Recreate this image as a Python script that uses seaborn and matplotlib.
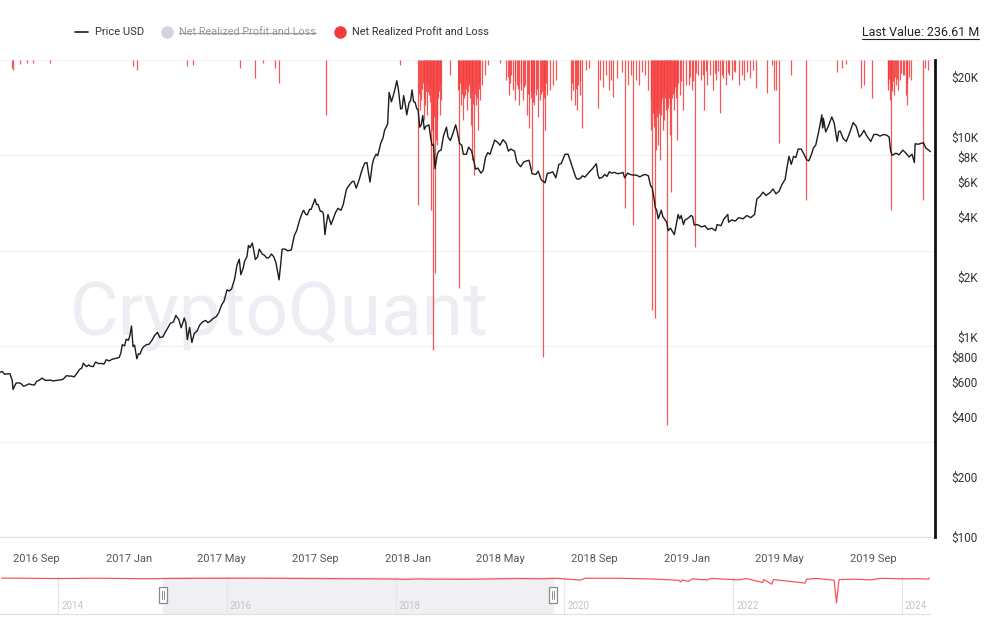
import pandas as pd
import numpy as np
import matplotlib.pyplot as plt
import matplotlib.dates as mdates
from matplotlib.lines import Line2D
from matplotlib.patches import Rectangle
from matplotlib.ticker import NullLocator
import seaborn as sns

sns.set_style('white')
plt.rcParams['font.family'] = ['Roboto', 'DejaVu Sans']

# BTC price (USD)
price_dates = [
    '2016-07-15', '2016-07-19', '2016-07-22', '2016-07-26', '2016-07-29',
    '2016-08-01', '2016-08-02', '2016-08-06', '2016-08-09', '2016-08-12', '2016-08-16', '2016-08-19', '2016-08-23', '2016-08-26', '2016-08-30',
    '2016-09-02', '2016-09-06', '2016-09-09', '2016-09-13', '2016-09-16', '2016-09-20', '2016-09-23', '2016-09-27', '2016-09-30',
    '2016-10-04', '2016-10-07', '2016-10-11', '2016-10-14', '2016-10-18', '2016-10-21', '2016-10-24', '2016-10-28', '2016-10-31',
    '2016-11-02', '2016-11-06', '2016-11-09', '2016-11-11', '2016-11-15', '2016-11-18', '2016-11-22', '2016-11-25', '2016-11-29',
    '2016-12-02', '2016-12-06', '2016-12-09', '2016-12-13', '2016-12-16', '2016-12-19', '2016-12-21', '2016-12-23', '2016-12-26', '2016-12-28', '2016-12-31',
    '2017-01-02', '2017-01-04', '2017-01-06', '2017-01-08', '2017-01-11', '2017-01-13', '2017-01-15', '2017-01-18', '2017-01-20', '2017-01-24', '2017-01-27', '2017-01-31',
    '2017-02-03', '2017-02-07', '2017-02-10', '2017-02-14', '2017-02-17', '2017-02-21', '2017-02-24', '2017-02-28',
    '2017-03-03', '2017-03-07', '2017-03-10', '2017-03-14', '2017-03-16', '2017-03-18', '2017-03-21', '2017-03-24', '2017-03-27', '2017-03-31',
    '2017-04-03', '2017-04-07', '2017-04-11', '2017-04-14', '2017-04-17', '2017-04-21', '2017-04-25', '2017-04-28',
    '2017-05-02', '2017-05-05', '2017-05-09', '2017-05-12', '2017-05-15', '2017-05-19', '2017-05-22', '2017-05-25', '2017-05-27', '2017-05-30',
    '2017-06-01', '2017-06-04', '2017-06-06', '2017-06-08', '2017-06-11', '2017-06-13', '2017-06-15', '2017-06-18', '2017-06-20', '2017-06-24', '2017-06-27', '2017-06-30',
    '2017-07-03', '2017-07-06', '2017-07-09', '2017-07-12', '2017-07-16', '2017-07-18', '2017-07-20', '2017-07-24', '2017-07-27',
    '2017-08-01', '2017-08-05', '2017-08-08', '2017-08-12', '2017-08-15', '2017-08-17', '2017-08-20', '2017-08-22', '2017-08-25', '2017-08-27',
    '2017-09-01', '2017-09-03', '2017-09-05', '2017-09-08', '2017-09-10', '2017-09-12', '2017-09-14', '2017-09-16', '2017-09-18', '2017-09-22', '2017-09-25', '2017-09-28',
    '2017-10-01', '2017-10-05', '2017-10-08', '2017-10-12', '2017-10-15', '2017-10-20', '2017-10-22', '2017-10-25', '2017-10-29',
    '2017-11-01', '2017-11-05', '2017-11-08', '2017-11-10', '2017-11-12', '2017-11-15', '2017-11-17', '2017-11-20', '2017-11-22', '2017-11-26', '2017-11-29',
    '2017-12-01', '2017-12-03', '2017-12-05', '2017-12-07', '2017-12-10', '2017-12-13', '2017-12-15', '2017-12-17', '2017-12-19', '2017-12-22', '2017-12-24', '2017-12-26', '2017-12-28', '2017-12-30',
    '2018-01-02', '2018-01-04', '2018-01-06', '2018-01-08', '2018-01-10', '2018-01-12', '2018-01-14', '2018-01-16', '2018-01-18', '2018-01-20', '2018-01-22', '2018-01-24', '2018-01-28', '2018-01-30',
    '2018-02-01', '2018-02-03', '2018-02-05', '2018-02-08', '2018-02-10', '2018-02-13', '2018-02-16', '2018-02-20', '2018-02-22', '2018-02-25', '2018-02-28',
    '2018-03-04', '2018-03-06', '2018-03-09', '2018-03-12', '2018-03-14', '2018-03-18', '2018-03-21', '2018-03-25', '2018-03-30',
    '2018-04-02', '2018-04-06', '2018-04-09', '2018-04-12', '2018-04-15', '2018-04-18', '2018-04-21', '2018-04-24', '2018-04-28',
    '2018-05-01', '2018-05-05', '2018-05-09', '2018-05-12', '2018-05-15', '2018-05-20', '2018-05-23', '2018-05-28',
    '2018-06-01', '2018-06-05', '2018-06-08', '2018-06-12', '2018-06-17', '2018-06-20', '2018-06-24', '2018-06-29',
    '2018-07-02', '2018-07-05', '2018-07-09', '2018-07-13', '2018-07-17', '2018-07-20', '2018-07-25', '2018-07-29',
    '2018-08-01', '2018-08-04', '2018-08-08', '2018-08-10', '2018-08-14', '2018-08-17', '2018-08-20', '2018-08-23', '2018-08-26', '2018-08-30',
    '2018-09-04', '2018-09-06', '2018-09-08', '2018-09-12', '2018-09-15', '2018-09-18', '2018-09-21', '2018-09-24', '2018-09-28',
    '2018-10-02', '2018-10-06', '2018-10-09', '2018-10-11', '2018-10-15', '2018-10-18', '2018-10-22', '2018-10-26', '2018-10-31',
    '2018-11-04', '2018-11-07', '2018-11-11', '2018-11-14', '2018-11-16', '2018-11-19', '2018-11-20', '2018-11-22', '2018-11-24', '2018-11-25', '2018-11-28', '2018-11-30',
    '2018-12-03', '2018-12-05', '2018-12-07', '2018-12-10', '2018-12-15', '2018-12-17', '2018-12-20', '2018-12-22', '2018-12-24', '2018-12-27', '2018-12-29',
    '2019-01-01', '2019-01-06', '2019-01-08', '2019-01-10', '2019-01-14', '2019-01-20', '2019-01-24', '2019-01-28',
    '2019-02-02', '2019-02-07', '2019-02-09', '2019-02-14', '2019-02-18', '2019-02-23', '2019-02-24', '2019-02-28',
    '2019-03-05', '2019-03-09', '2019-03-15', '2019-03-20', '2019-03-25', '2019-03-30',
    '2019-04-02', '2019-04-06', '2019-04-10', '2019-04-14', '2019-04-20', '2019-04-23', '2019-04-27',
    '2019-05-01', '2019-05-05', '2019-05-09', '2019-05-11', '2019-05-14', '2019-05-17', '2019-05-20', '2019-05-23', '2019-05-26', '2019-05-30',
    '2019-06-03', '2019-06-06', '2019-06-09', '2019-06-12', '2019-06-15', '2019-06-18', '2019-06-22', '2019-06-26', '2019-06-27', '2019-06-28',
    '2019-07-01', '2019-07-04', '2019-07-09', '2019-07-12', '2019-07-16', '2019-07-18', '2019-07-20', '2019-07-24', '2019-07-28',
    '2019-08-01', '2019-08-06', '2019-08-10', '2019-08-14', '2019-08-17', '2019-08-20', '2019-08-24', '2019-08-29',
    '2019-09-02', '2019-09-06', '2019-09-10', '2019-09-15', '2019-09-19', '2019-09-22', '2019-09-24', '2019-09-26',
    '2019-10-01', '2019-10-05', '2019-10-10', '2019-10-14', '2019-10-18', '2019-10-22', '2019-10-25', '2019-10-26', '2019-10-30',
    '2019-11-03', '2019-11-06', '2019-11-09', '2019-11-11', '2019-11-15',
]
price_usd = [
    665, 672, 651, 654, 655,
    606, 547, 588, 590, 587, 567, 574, 583, 578, 575,
    600, 610, 623, 608, 607, 609, 603, 606, 609,
    611, 617, 641, 638, 637, 632, 653, 688, 700,
    740, 711, 725, 715, 711, 750, 736, 738, 732,
    770, 759, 772, 780, 784, 791, 832, 915, 903, 975, 963,
    1021, 1135, 896, 911, 778, 825, 820, 875, 894, 917, 920, 966,
    1015, 1055, 995, 1000, 1053, 1120, 1172, 1190,
    1282, 1220, 1112, 1245, 1180, 970, 1115, 938, 1040, 1075,
    1145, 1190, 1210, 1180, 1200, 1240, 1265, 1320,
    1450, 1510, 1720, 1700, 1740, 1960, 2290, 2450, 2050, 2200,
    2400, 2520, 2870, 2800, 2950, 2700, 2440, 2520, 2750, 2600, 2560, 2480,
    2500, 2600, 2520, 2350, 1930, 2280, 2750, 2750, 2700,
    2720, 3220, 3400, 3850, 4150, 4300, 4100, 4080, 4350, 4350,
    4900, 4600, 4600, 4250, 4250, 4150, 3250, 3700, 4100, 3650, 3920, 4200,
    4400, 4300, 4600, 5450, 5700, 6000, 6000, 5550, 6150,
    6750, 7400, 7450, 6600, 5950, 7300, 7800, 8200, 8050, 9300, 9900,
    10800, 11200, 11600, 16700, 15000, 16400, 17600, 19100, 17400, 13800, 13900, 16100, 14600, 12900,
    14800, 15200, 17200, 15000, 14900, 13900, 13600, 11200, 11500, 12800, 10900, 11300, 11500, 10100,
    9100, 9200, 6950, 8200, 8500, 8600, 10100, 11200, 10000, 9600, 10300,
    11500, 10700, 9300, 9100, 8200, 8200, 8900, 8500, 6900,
    7000, 6600, 6800, 7900, 8350, 8200, 8900, 9650, 9400,
    9100, 9700, 9300, 8500, 8700, 8500, 7500, 7100,
    7500, 7600, 7650, 6550, 6500, 6750, 6100, 5900,
    6600, 6600, 6700, 6250, 7300, 7350, 8200, 8200,
    7600, 7000, 6300, 6150, 6200, 6400, 6300, 6500, 6700, 6950,
    7350, 6500, 6200, 6300, 6500, 6350, 6700, 6600, 6650,
    6550, 6600, 6650, 6250, 6600, 6500, 6450, 6450, 6320,
    6450, 6500, 6400, 5700, 5600, 4800, 4450, 4300, 3900, 4000, 4300, 4000,
    3850, 3750, 3400, 3500, 3250, 3550, 4100, 3900, 4050, 3650, 3850,
    3900, 4050, 4000, 3630, 3650, 3550, 3600, 3450,
    3500, 3400, 3650, 3600, 3900, 4100, 3750, 3850,
    3800, 3950, 3900, 4050, 3950, 4100,
    4900, 5050, 5300, 5100, 5300, 5500, 5200,
    5350, 5800, 6150, 6900, 8000, 7300, 8000, 7900, 8700, 8700,
    8150, 7700, 7600, 8100, 8800, 9100, 10700, 12900, 11100, 12400,
    10600, 11200, 12600, 11800, 9500, 10650, 10700, 9800, 9500,
    10400, 11800, 11300, 10000, 10300, 10800, 10100, 9500,
    10300, 10300, 10100, 10300, 10200, 10000, 8500, 8100,
    8300, 8150, 8600, 8300, 7950, 8200, 7450, 9250, 9200,
    9300, 9350, 8800, 8700, 8450,
]

# Net Realized Profit and Loss, loss days only (million USD)
nrpl_dates = [
    '2016-08-01', '2016-08-02', '2016-08-11', '2016-08-20', '2016-08-28', '2016-09-20', '2017-01-06',
    '2017-01-11', '2017-03-18', '2017-03-25', '2017-05-26', '2017-06-15', '2017-06-25', '2017-07-11',
    '2017-07-16', '2017-09-15', '2017-12-21', '2018-01-14', '2018-01-17', '2018-01-18', '2018-01-21',
    '2018-01-23', '2018-01-26', '2018-01-28', '2018-01-31', '2018-02-01', '2018-02-02', '2018-02-03',
    '2018-02-05', '2018-02-06', '2018-02-07', '2018-02-08', '2018-02-11', '2018-02-13', '2018-02-24',
    '2018-03-07', '2018-03-08', '2018-03-11', '2018-03-13', '2018-03-16', '2018-03-19', '2018-03-21',
    '2018-03-24', '2018-03-26', '2018-03-28', '2018-03-30', '2018-04-02', '2018-04-05', '2018-04-07',
    '2018-04-11', '2018-04-15', '2018-05-01', '2018-05-09', '2018-05-13', '2018-05-16', '2018-05-18',
    '2018-05-21', '2018-05-23', '2018-05-26', '2018-05-28', '2018-05-31', '2018-06-03', '2018-06-05',
    '2018-06-08', '2018-06-12', '2018-06-15', '2018-06-17', '2018-06-20', '2018-06-22', '2018-06-26',
    '2018-06-29', '2018-07-01', '2018-07-05', '2018-07-09', '2018-07-13', '2018-08-02', '2018-08-05',
    '2018-08-07', '2018-08-10', '2018-08-13', '2018-08-16', '2018-08-21', '2018-08-25', '2018-09-06',
    '2018-09-09', '2018-09-13', '2018-09-17', '2018-09-21', '2018-09-23', '2018-09-26', '2018-10-01',
    '2018-10-07', '2018-10-12', '2018-10-16', '2018-10-20', '2018-10-22', '2018-10-26', '2018-10-30',
    '2018-11-03', '2018-11-07', '2018-11-11', '2018-11-14', '2018-11-16', '2018-11-18', '2018-11-20',
    '2018-11-21', '2018-11-24', '2018-11-26', '2018-11-27', '2018-11-30', '2018-12-02', '2018-12-05',
    '2018-12-06', '2018-12-09', '2018-12-11', '2018-12-14', '2018-12-18', '2018-12-22', '2018-12-26',
    '2018-12-30', '2019-01-03', '2019-01-07', '2019-01-11', '2019-01-15', '2019-01-19', '2019-01-23',
    '2019-01-27', '2019-01-31', '2019-02-04', '2019-02-08', '2019-02-13', '2019-02-17', '2019-02-21',
    '2019-02-25', '2019-03-01', '2019-03-05', '2019-03-09', '2019-03-13', '2019-03-16', '2019-03-20',
    '2019-03-24', '2019-03-28', '2019-04-01', '2019-04-15', '2019-04-22', '2019-04-24', '2019-04-27',
    '2019-05-01', '2019-05-17', '2019-06-05', '2019-07-16', '2019-07-23', '2019-07-28', '2019-08-16',
    '2019-08-20', '2019-08-31', '2019-09-20', '2019-09-23', '2019-09-25', '2019-09-28', '2019-10-01',
    '2019-10-03', '2019-10-06', '2019-10-10', '2019-10-14', '2019-10-16', '2019-10-20', '2019-11-05',
    '2019-11-08', '2019-11-12',
    # shallower loss days inside the dense clusters
    '2018-01-15', '2018-01-19', '2018-01-20', '2018-01-22', '2018-01-24', '2018-01-25', '2018-01-27',
    '2018-01-29', '2018-01-30', '2018-02-04', '2018-02-09', '2018-02-10', '2018-02-12',
    '2018-03-09', '2018-03-10', '2018-03-12', '2018-03-14', '2018-03-15', '2018-03-17', '2018-03-18',
    '2018-03-20', '2018-03-22', '2018-03-23', '2018-03-25', '2018-03-27', '2018-03-29', '2018-03-31',
    '2018-04-01', '2018-04-03', '2018-04-04',
    '2018-05-11', '2018-05-14', '2018-05-20', '2018-05-24', '2018-05-29', '2018-06-01', '2018-06-06',
    '2018-06-10', '2018-06-11', '2018-06-13', '2018-06-14', '2018-06-18', '2018-06-24', '2018-06-25',
    '2018-06-27', '2018-06-28', '2018-06-30',
    '2018-08-03', '2018-08-08', '2018-08-11', '2018-08-14',
    '2018-11-15', '2018-11-17', '2018-11-19', '2018-11-22', '2018-11-23', '2018-11-25', '2018-11-28',
    '2018-11-29', '2018-12-01', '2018-12-03', '2018-12-04', '2018-12-07', '2018-12-08', '2018-12-10',
    '2018-12-12', '2018-12-13', '2018-12-15', '2018-12-16', '2018-12-17', '2018-12-19', '2018-12-20',
    '2018-12-24',
    '2019-01-05', '2019-01-09', '2019-01-13', '2019-01-21', '2019-01-25', '2019-02-06', '2019-02-10',
    '2019-02-15', '2019-02-23', '2019-03-03',
    '2019-09-21', '2019-09-22', '2019-09-24', '2019-09-26', '2019-09-27', '2019-09-30', '2019-10-02',
    '2019-10-08', '2019-10-12', '2019-10-15', '2019-10-18',
]
nrpl_musd = [
    -42, -52, -21, -16, -16, -16, -31,
    -52, -31, -26, -42, -94, -16, -42,
    -121, -288, -26, -760, -262, -210, -314,
    -236, -288, -183, -786, -367, -1520, -472,
    -1116, -419, -445, -314, -288, -210, -79,
    -157, -1195, -236, -314, -183, -262, -131,
    -341, -524, -603, -236, -367, -210, -131,
    -79, -26, -16, -105, -183, -79, -157,
    -210, -131, -236, -157, -210, -131, -288,
    -356, -576, -236, -183, -299, -210, -1556,
    -367, -183, -157, -131, -105, -210, -157,
    -236, -262, -183, -356, -52, -42, -252,
    -105, -141, -79, -157, -105, -194, -94,
    -63, -776, -131, -79, -865, -105, -131,
    -63, -79, -157, -367, -1310, -314, -1352,
    -472, -445, -524, -288, -367, -314, -1913,
    -236, -393, -692, -262, -419, -183, -262,
    -131, -131, -157, -980, -79, -105, -262,
    -131, -79, -157, -105, -278, -94, -131,
    -79, -105, -63, -131, -79, -105, -63,
    -94, -52, -147, -173, -26, -157, -157,
    -435, -79, -734, -63, -42, -21, -147,
    -131, -199, -157, -210, -786, -183, -131,
    -157, -105, -79, -183, -236, -105, -734,
    -42, -52,
    -180, -150, -120, -200, -160, -130, -170,
    -140, -220, -300, -200, -160, -120,
    -150, -120, -180, -140, -200, -110, -150,
    -170, -120, -200, -160, -230, -180, -140,
    -200, -150, -120,
    -90, -120, -110, -150, -120, -140, -180,
    -200, -160, -220, -170, -150, -180, -160,
    -200, -150, -120,
    -120, -150, -130, -110,
    -200, -280, -350, -300, -250, -280, -220,
    -200, -180, -200, -260, -250, -200, -230,
    -200, -180, -160, -140, -200, -150, -120,
    -110,
    -90, -110, -70, -80, -60, -70, -60,
    -80, -70, -60,
    -120, -100, -140, -160, -110, -90, -100,
    -70, -80, -120, -90,
]

# navigator (full history, smoothed NRPL, million USD)
nav_dates = [
    '2013-05-01', '2014-01-01', '2014-06-01', '2015-01-15', '2015-08-01', '2016-06-01', '2017-01-10',
    '2017-09-15', '2018-01-20', '2018-02-06', '2018-03-30', '2018-06-25', '2018-11-20', '2018-12-10',
    '2019-06-01', '2019-09-25', '2019-12-01', '2020-03-12', '2020-04-01', '2020-09-01', '2021-01-20',
    '2021-05-12', '2021-05-19', '2021-05-25', '2021-06-22', '2021-07-10', '2021-09-10', '2021-10-01',
    '2022-01-22', '2022-03-01', '2022-05-09', '2022-05-15', '2022-06-13', '2022-06-18', '2022-06-25',
    '2022-11-09', '2022-11-15', '2023-01-01', '2023-03-15', '2023-03-25', '2023-04-05', '2023-06-15',
    '2023-08-18', '2023-10-01', '2024-01-15', '2024-03-20', '2024-04-25', '2024-05-01',
]
nav_musd = [
    0, -60, -20, -80, -30, -20, -60,
    -100, -140, -180, -120, -140, -160, -150,
    -60, -90, -30, -270, -20, -30, -120,
    -300, -550, -250, -450, -100, -250, -40,
    -250, -60, -600, -200, -750, -820, -200,
    -680, -150, -50, -300, -3400, -200, -150,
    -250, -30, -100, -80, -140, 0,
]
nav_years = ['2014', '2016', '2018', '2020', '2022', '2024']
nav_window = ['2015-03-30', '2019-11-13']

tick_dates = ['2016-09-01', '2017-01-01', '2017-05-01', '2017-09-01', '2018-01-01', '2018-05-01',
              '2018-09-01', '2019-01-01', '2019-05-01', '2019-09-01']
price_ticks = [100, 200, 400, 600, 800, 1000, 2000, 4000, 6000, 8000, 10000, 20000]
price_labels = ['$100', '$200', '$400', '$600', '$800', '$1K', '$2K', '$4K', '$6K', '$8K', '$10K', '$20K']

price_df = pd.DataFrame({'date': pd.to_datetime(price_dates), 'price': price_usd})
nrpl_df = pd.DataFrame({'date': pd.to_datetime(nrpl_dates), 'nrpl': nrpl_musd})
nav_df = pd.DataFrame({'date': pd.to_datetime(nav_dates), 'nrpl': nav_musd})

RED = '#f43a3a'
W, H = 1001, 643

fig = plt.figure(figsize=(W / 100, H / 100), dpi=100)
ax = fig.add_axes([0, 1 - 537 / H, 935 / W, 477 / H])

# NRPL bars hanging from the top (hidden left axis)
ax.vlines(nrpl_df['date'], 0, nrpl_df['nrpl'], color=RED, lw=0.9, alpha=0.85, zorder=2)
ax.set_ylim(-2500, 0)
ax.set_yticks(np.arange(-2500, 1, 500))
ax.grid(axis='y', color='#f1f1f4', lw=0.9)
ax.set_xlim(pd.Timestamp('2016-07-16'), pd.Timestamp('2019-11-21'))
ax.set_xticks(pd.to_datetime(tick_dates))
ax.xaxis.set_major_formatter(mdates.DateFormatter('%Y %b'))
ax.tick_params(axis='x', direction='out', length=6, width=0.8, color='#d4d4d4',
               labelsize=8, labelcolor='#555555', pad=6)
for s in ['top', 'left', 'right']:
    ax.spines[s].set_visible(False)
ax.spines['bottom'].set_color('#e3e3e3')
ax.spines['bottom'].set_linewidth(0.9)

ax.text(70 / W, 1 - 335 / H, 'CryptoQuant', transform=fig.transFigure, fontsize=54,
        color='#ededf3', ha='left', va='baseline', zorder=0.5)

# price on log scale, right axis
ax2 = ax.twinx()
sns.lineplot(data=price_df, x='date', y='price', ax=ax2, color='#1c1c1c', lw=1.0)
ax2.set_yscale('log')
ax2.set_ylim(100, 10 ** 4.385)
ax2.set_yticks(price_ticks)
ax2.set_yticklabels(price_labels)
ax2.yaxis.set_minor_locator(NullLocator())
ax2.set_ylabel('')
ax2.set_xlabel('')
ax.set_xlabel('')
ax2.tick_params(axis='y', which='both', left=False, right=False, length=0,
                labelsize=8.5, labelcolor='#333333', pad=31)
ax.tick_params(axis='y', which='both', left=False, right=False, labelleft=False, labelright=False)
for lab in ax2.get_yticklabels():
    lab.set_horizontalalignment('right')
for s in ['top', 'left', 'bottom']:
    ax2.spines[s].set_visible(False)
ax2.spines['right'].set_color('#111111')
ax2.spines['right'].set_linewidth(2)

# navigator
nav = fig.add_axes([0, 1 - 614 / H, 930 / W, 37 / H])
nav.set_xlim(pd.Timestamp('2013-04-24'), pd.Timestamp('2024-05-03'))
nav.set_ylim(-4900, 150)
nav.axvspan(pd.Timestamp(nav_window[0]), pd.Timestamp(nav_window[1]), color='#efeff4', zorder=0)
for yr in nav_years:
    d = pd.Timestamp(yr + '-01-01')
    nav.axvline(d, color='#e6e6e6', lw=0.9, zorder=0.5)
    nav.annotate(yr, (mdates.date2num(d), 0.22), xycoords=nav.get_xaxis_transform(),
                 xytext=(3, 0), textcoords='offset pixels', fontsize=7, color='#c4c4c4',
                 ha='left', va='center')
nav.plot(nav_df['date'], nav_df['nrpl'], color=RED, lw=0.9, alpha=0.85, zorder=2)
for d in nav_window:
    x0 = mdates.date2num(pd.Timestamp(d)) - 16
    nav.add_patch(Rectangle((x0, 0.3), 32, 0.42, transform=nav.get_xaxis_transform(),
                            facecolor='white', edgecolor='#8a8a8a', lw=0.9, zorder=3))
    nav.plot([x0 + 13, x0 + 13], [0.4, 0.62], transform=nav.get_xaxis_transform(),
             color='#8a8a8a', lw=0.7, zorder=4)
    nav.plot([x0 + 19, x0 + 19], [0.4, 0.62], transform=nav.get_xaxis_transform(),
             color='#8a8a8a', lw=0.7, zorder=4)
nav.set_xticks([])
nav.set_yticks([])
for s in ['top', 'left', 'right']:
    nav.spines[s].set_visible(False)
nav.spines['bottom'].set_color('#e0e0e0')
nav.patch.set_alpha(0)

# legend row
ly = 1 - 32 / H
fig.add_artist(Line2D([75 / W, 88 / W], [ly, ly], color='#1c1c1c', lw=1.2))
fig.text(95 / W, ly, 'Price USD', fontsize=8, color='#333333', va='center', ha='left')
fig.add_artist(Line2D([167 / W], [ly], marker='o', markersize=8, color='#d3d3de', lw=0))
t_off = fig.text(179 / W, ly, 'Net Realized Profit and Loss', fontsize=7.8, color='#9a9a9a',
                 va='center', ha='left')
fig.add_artist(Line2D([340 / W], [ly], marker='o', markersize=8, color=RED, lw=0))
fig.text(352 / W, ly, 'Net Realized Profit and Loss', fontsize=7.8, color='#333333',
         va='center', ha='left')
t_last = fig.text(979 / W, 1 - 33 / H, 'Last Value: 236.61 M', fontsize=9, color='#222222',
                  va='center', ha='right')

fig.canvas.draw()
r = fig.canvas.get_renderer()
bb = t_off.get_window_extent(r)
ym = (bb.y0 + bb.y1) / 2 / H
fig.add_artist(Line2D([bb.x0 / W, bb.x1 / W], [ym - 0.5 / H, ym - 0.5 / H], color='#9a9a9a', lw=0.8))
bb = t_last.get_window_extent(r)
fig.add_artist(Line2D([bb.x0 / W, bb.x1 / W], [(bb.y0 + 1) / H, (bb.y0 + 1) / H],
                      color='#222222', lw=0.8))

fig.savefig('out.png', dpi=100)
